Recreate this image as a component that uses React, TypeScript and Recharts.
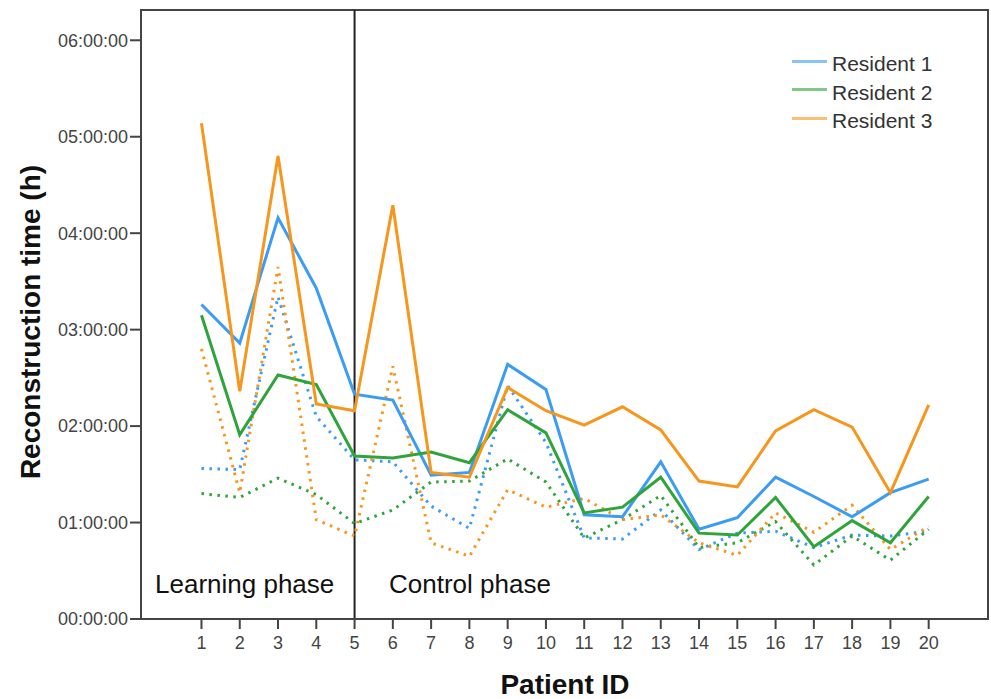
import React from 'react';
import { LineChart, Line, XAxis, YAxis, ReferenceLine, ReferenceArea, Legend } from 'recharts';

const patients = [1, 2, 3, 4, 5, 6, 7, 8, 9, 10, 11, 12, 13, 14, 15, 16, 17, 18, 19, 20];
// values in hours
const resident1 = [3.26, 2.86, 4.16, 3.43, 2.33, 2.27, 1.49, 1.52, 2.64, 2.38, 1.08, 1.06, 1.63, 0.93, 1.05, 1.47, 1.27, 1.06, 1.31, 1.45];
const resident2 = [3.15, 1.91, 2.53, 2.43, 1.69, 1.67, 1.73, 1.62, 2.17, 1.93, 1.10, 1.16, 1.47, 0.89, 0.87, 1.26, 0.75, 1.02, 0.79, 1.27];
const resident3 = [5.14, 2.36, 4.80, 2.23, 2.16, 4.29, 1.52, 1.47, 2.40, 2.16, 2.01, 2.20, 1.96, 1.43, 1.37, 1.95, 2.17, 1.99, 1.31, 2.22];
const resident1Dotted = [1.56, 1.55, 3.34, 2.10, 1.65, 1.63, 1.17, 0.94, 2.42, 1.83, 0.84, 0.83, 1.13, 0.72, 0.89, 0.91, 0.74, 0.87, 0.86, 0.91];
const resident2Dotted = [1.30, 1.26, 1.46, 1.29, 0.99, 1.13, 1.42, 1.43, 1.66, 1.42, 0.84, 1.03, 1.28, 0.74, 0.79, 1.01, 0.56, 0.86, 0.61, 0.93];
const resident3Dotted = [2.80, 1.31, 3.65, 1.03, 0.86, 2.62, 0.79, 0.65, 1.34, 1.16, 1.25, 1.03, 1.08, 0.79, 0.66, 1.10, 0.90, 1.18, 0.72, 0.96];

const yTicks = [0, 1, 2, 3, 4, 5, 6];
const phaseBoundary = 5;
const xDomain: [number, number] = [-0.58, 21.55];
const yDomain: [number, number] = [0, 6.314];

const BLUE = '#3a9cf4';
const GREEN = '#2ea43a';
const ORANGE = '#f7961c';
const FONT = '"Liberation Sans", Arial, sans-serif';

const data = patients.map((p, i) => ({
  patient: p,
  r1: resident1[i],
  r2: resident2[i],
  r3: resident3[i],
  r1d: resident1Dotted[i],
  r2d: resident2Dotted[i],
  r3d: resident3Dotted[i],
}));

const fmt = (h: number) => {
  const hh = Math.floor(h);
  const mm = Math.round((h - hh) * 60);
  const p = (n: number) => String(n).padStart(2, '0');
  return `${p(hh)}:${p(mm)}:00`;
};

const renderLegend = (props: any) => {
  const items = (props.payload || []).filter((e: any) => e.type !== 'none');
  return (
    <div style={{ fontFamily: FONT, fontSize: 21, color: '#333' }}>
      {items.map((e: any) => (
        <div key={e.value} style={{ display: 'flex', alignItems: 'center', height: 28.5 }}>
          <span style={{ display: 'inline-block', width: 35, height: 3, background: e.color, opacity: 0.6, marginRight: 5 }} />
          <span style={{ lineHeight: '24px', marginTop: 6 }}>{e.value}</span>
        </div>
      ))}
    </div>
  );
};

export default function App() {
  return (
    <div style={{ position: 'absolute', left: 0, top: 0, width: 991, height: 699, background: '#fff' }}>
      <LineChart width={991} height={699} data={data} margin={{ top: 10, right: 3, bottom: 0, left: 0 }}>
        <XAxis
          dataKey="patient"
          type="number"
          domain={xDomain}
          allowDataOverflow
          ticks={patients}
          interval={0}
          height={80}
          tickSize={10}
          axisLine={{ stroke: '#444', strokeWidth: 2 }}
          tickLine={{ stroke: '#444', strokeWidth: 2 }}
          tick={{ fill: '#444', fontSize: 18, fontFamily: FONT, dy: 5 }}
        />
        <YAxis
          type="number"
          domain={yDomain}
          allowDataOverflow
          ticks={yTicks}
          width={141}
          tickSize={11}
          tickFormatter={fmt}
          axisLine={{ stroke: '#444', strokeWidth: 2 }}
          tickLine={{ stroke: '#444', strokeWidth: 2 }}
          tick={{ fill: '#444', fontSize: 18, fontFamily: FONT }}
        />
        <ReferenceArea x1={xDomain[0]} x2={xDomain[1]} y1={yDomain[0]} y2={yDomain[1]} fill="none" stroke="#444" strokeWidth={2} ifOverflow="visible" />
        <ReferenceLine x={phaseBoundary} stroke="#222" strokeWidth={2} />
        <Line type="linear" dataKey="r1d" name="Resident 1 (dotted)" stroke={BLUE} strokeWidth={3} strokeDasharray="2.5 5.5" dot={false} legendType="none" isAnimationActive={false} />
        <Line type="linear" dataKey="r2d" name="Resident 2 (dotted)" stroke={GREEN} strokeWidth={3} strokeDasharray="2.5 5.5" dot={false} legendType="none" isAnimationActive={false} />
        <Line type="linear" dataKey="r3d" name="Resident 3 (dotted)" stroke={ORANGE} strokeWidth={3} strokeDasharray="2.5 5.5" dot={false} legendType="none" isAnimationActive={false} />
        <Line type="linear" dataKey="r1" name="Resident 1" stroke={BLUE} strokeWidth={3} dot={false} isAnimationActive={false} />
        <Line type="linear" dataKey="r2" name="Resident 2" stroke={GREEN} strokeWidth={3} dot={false} isAnimationActive={false} />
        <Line type="linear" dataKey="r3" name="Resident 3" stroke={ORANGE} strokeWidth={3} dot={false} isAnimationActive={false} />
        <Legend layout="vertical" align="center" verticalAlign="middle" content={renderLegend} wrapperStyle={{ left: 792, top: 47 }} />
      </LineChart>
      <svg width={991} height={699} style={{ position: 'absolute', left: 0, top: 0, pointerEvents: 'none' }}>
        <text x={155} y={593} fontSize={26} fontFamily={FONT} fill="#111">Learning phase</text>
        <text x={389} y={593} fontSize={26} fontFamily={FONT} fill="#111">Control phase</text>
        <text x={565} y={694} fontSize={28} fontWeight="bold" fontFamily={FONT} fill="#111" textAnchor="middle">Patient ID</text>
        <text transform="translate(40,322) rotate(-90)" fontSize={28} fontWeight="bold" fontFamily={FONT} fill="#111" textAnchor="middle">Reconstruction time (h)</text>
      </svg>
    </div>
  );
}
